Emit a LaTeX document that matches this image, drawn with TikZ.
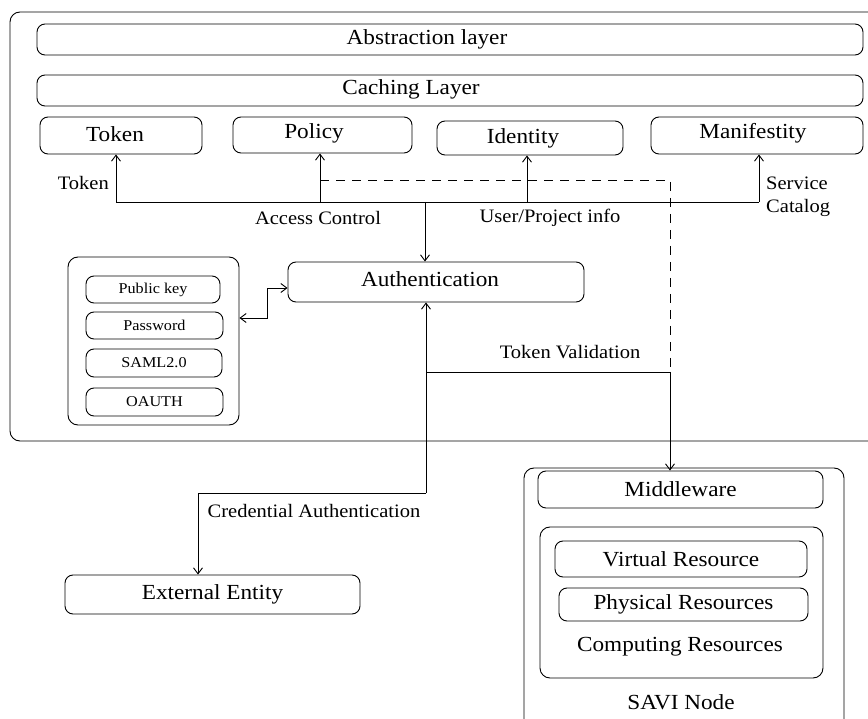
\documentclass[tikz,border=0pt]{standalone}
\usepackage{fontspec}
\setmainfont{Liberation Serif}[FakeStretch=1.08]
\usetikzlibrary{arrows.meta}
\tikzset{
  box/.style={draw, rounded corners=8pt, line width=0.9pt, inner sep=0pt, font=\fontsize{21.5}{24}\selectfont},
  smallbox/.style={draw, rounded corners=8pt, line width=0.9pt, inner sep=0pt, font=\fontsize{15}{17}\selectfont},
  container/.style={draw, rounded corners=10pt, line width=0.9pt, inner sep=0pt},
  lbl/.style={inner sep=0pt, font=\fontsize{19}{23}\selectfont},
  txt/.style={inner sep=0pt, font=\fontsize{21.5}{24}\selectfont},
  conn/.style={line width=0.9pt},
  arr/.style={line width=0.9pt, -{Straight Barb[length=6pt,width=9pt]}},
  darr/.style={line width=0.9pt, {Straight Barb[length=6pt,width=9pt]}-{Straight Barb[length=6pt,width=9pt]}},
  dashline/.style={line width=0.9pt, dash pattern=on 9pt off 7pt}
}
\begin{document}
\begin{tikzpicture}[x=1pt,y=-1pt]
\useasboundingbox (0,0) rectangle (868,719);
\clip (0,0) rectangle (868,719);
\fill[white] (0,0) rectangle (868,719);

% containers
\node[container, minimum width=870pt, minimum height=429pt] (outer) at (445,226.5) {};
\node[container, minimum width=171pt, minimum height=168pt] (methods) at (153.5,341) {};
\node[container, minimum width=320pt, minimum height=292pt] (savi) at (684,614) {};
\node[container, minimum width=283pt, minimum height=151pt] (comp) at (681.5,602.5) {};

% layers
\node[box, minimum width=826pt, minimum height=31pt] (abs) at (450,39.5) {};
\node[txt] (abstxt) at (427,39.5) {Abstraction layer};
\node[box, minimum width=826pt, minimum height=31pt] (cach) at (450,90.5) {};
\node[txt] (cachtxt) at (411,89) {Caching Layer};

% services
\node[box, minimum width=162pt, minimum height=37pt] (token) at (121,135.5) {};
\node[txt] (tokentxt) at (115,134) {Token};
\node[box, minimum width=179pt, minimum height=36pt] (policy) at (322.5,135) {};
\node[txt] (policytxt) at (314,133) {Policy};
\node[box, minimum width=186pt, minimum height=34pt] (identity) at (530,138) {};
\node[txt] (identitytxt) at (523,138) {Identity};
\node[box, minimum width=212pt, minimum height=37pt] (manif) at (757,135.5) {};
\node[txt] (maniftxt) at (753,133) {Manifestity};

% methods
\node[smallbox, minimum width=134pt, minimum height=27pt] (pubkey) at (153,289.5) {Public key};
\node[smallbox, minimum width=137pt, minimum height=27pt] (password) at (154.5,325.5) {Password};
\node[smallbox, minimum width=136pt, minimum height=28pt] (saml) at (154,363) {SAML2.0};
\node[smallbox, minimum width=137pt, minimum height=28pt] (oauth) at (154.5,402) {OAUTH};

% authentication / external
\node[box, minimum width=296pt, minimum height=40pt] (auth) at (436,282) {};
\node[txt] (authtxt) at (430,279) {Authentication};
\node[box, minimum width=295pt, minimum height=39pt] (ext) at (212.5,594.5) {External Entity};

% SAVI node
\node[box, minimum width=285pt, minimum height=37pt] (mid) at (680.5,489.5) {Middleware};
\node[box, minimum width=252pt, minimum height=36pt] (virt) at (681,559) {Virtual Resource};
\node[box, minimum width=249pt, minimum height=33pt] (phys) at (683.5,604.5) {Physical Resources};
\node[txt] (comptxt) at (680,647) {Computing Resources};
\node[txt] (savitxt) at (681,702) {SAVI Node};

% bus coordinates
\coordinate (j1) at (116,202);
\coordinate (j2) at (320,202);
\coordinate (j3) at (527,202);
\coordinate (j4) at (759,202);
\coordinate (jd) at (425,202);
\coordinate (d1) at (320,180);
\coordinate (d2) at (670,180);
\coordinate (tv) at (670,372);
\coordinate (ta) at (426,372);
\coordinate (cr) at (426,493);
\coordinate (cl) at (198,493);
\coordinate (m1) at (267,288);
\coordinate (m2) at (267,318);

% bus
\draw[conn] (j1) -- (j4);
\draw[arr] (j1) -- (j1 |- token.south);
\draw[arr] (j2) -- (j2 |- policy.south);
\draw[arr] (j3) -- (j3 |- identity.south);
\draw[arr] (j4) -- (j4 |- manif.south);
\draw[arr] (jd) -- (jd |- auth.north);

% dashed token path
\draw[dashline] (d1) -- (d2) -- (tv);
\draw[arr] (tv) -- (tv |- mid.north);
\draw[conn] (ta) -- (tv);
\draw[arr] (cr) -- (cr |- auth.south);
\draw[arr] (cr) -- (cl) -- (cl |- ext.north);

% methods <-> authentication
\draw[darr] (m2 -| methods.east) -- (m2) -- (m1) -- (m1 -| auth.west);

% labels
\node[lbl, anchor=east] (ltoken) at (109,183) {Token};
\node[lbl] (lac) at (318,218) {Access Control};
\node[lbl] (lup) at (550,218) {User/Project info};
\node[lbl, anchor=west, align=left] (lsc) at (766,196.5) {Service\\Catalog};
\node[lbl] (ltv) at (570,352) {Token Validation};
\node[lbl] (lca) at (314,511) {Credential Authentication};
\end{tikzpicture}
\end{document}
